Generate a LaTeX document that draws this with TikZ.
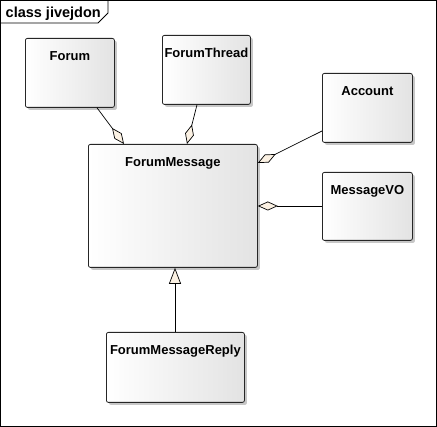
\documentclass[tikz,border=0pt]{standalone}
\usepackage{fontspec}
\setmainfont{Liberation Sans}
\usetikzlibrary{arrows.meta,shadows,calc}
\definecolor{cream}{HTML}{FBF1E3}
\begin{document}
\begin{tikzpicture}[x=1pt,y=-1pt,
  cls/.style={draw=black!85, line width=0.8pt, rounded corners=2pt,
    left color=white, right color=black!11,
    drop shadow={shadow xshift=2.5pt, shadow yshift=-2.5pt, fill=black!22, opacity=1},
    anchor=north west, inner sep=0pt},
  ttl/.style={anchor=north, inner sep=0pt, yshift=-13pt,
    font=\fontsize{13}{15}\selectfont\bfseries},
  agg/.style={draw=black, line width=0.7pt,
    -{Diamond[length=20pt,width=9pt,fill=cream,line width=0.7pt]}},
  gen/.style={draw=black, line width=0.7pt,
    -{Triangle[length=16pt,width=12pt,fill=cream,line width=0.7pt]}},
  frameline/.style={draw=black, line width=0.8pt}]
\useasboundingbox (0,0) rectangle (437,427);
% frame
\draw[frameline] (0.5,0.5) rectangle (436.5,426.5);
\draw[frameline] (0.5,23) -- (98,23) -- (108,13) -- (108,0.5);
\node[anchor=base west, inner sep=0pt, font=\fontsize{14.5}{16}\selectfont\bfseries] (title) at (5.5,18) {class jivejdon};
% classes
\node[cls, minimum width=89pt, minimum height=69pt, label={[ttl]north:Forum}] (forum) at (25,38) {};
\node[cls, minimum width=88pt, minimum height=69pt, label={[ttl]north:ForumThread}] (thread) at (162,35) {};
\node[cls, minimum width=90pt, minimum height=69pt, label={[ttl]north:Account}] (account) at (322,73) {};
\node[cls, minimum width=90pt, minimum height=68pt, label={[ttl]north:MessageVO}] (vo) at (322,172) {};
\node[cls, minimum width=169pt, minimum height=123pt, label={[ttl]north:ForumMessage}] (fm) at (88,144) {};
\node[cls, minimum width=138pt, minimum height=70pt, label={[ttl]north:ForumMessageReply}] (reply) at (106,332) {};
% connectors
\draw[agg] ($(forum.south west)+(72,0)$) -- ($(fm.north west)+(36,0)$);
\draw[agg] ($(thread.south west)+(35,0)$) -- ($(fm.north west)+(99,0)$);
\draw[agg] ($(account.north west)+(0,58)$) -- ($(fm.north east)+(0,19)$);
\draw[agg] ($(vo.north west)+(0,34)$) -- ($(fm.north east)+(0,62)$);
\draw[gen] ($(reply.north west)+(69,0)$) -- ($(fm.south west)+(87,0)$);
\end{tikzpicture}
\end{document}
